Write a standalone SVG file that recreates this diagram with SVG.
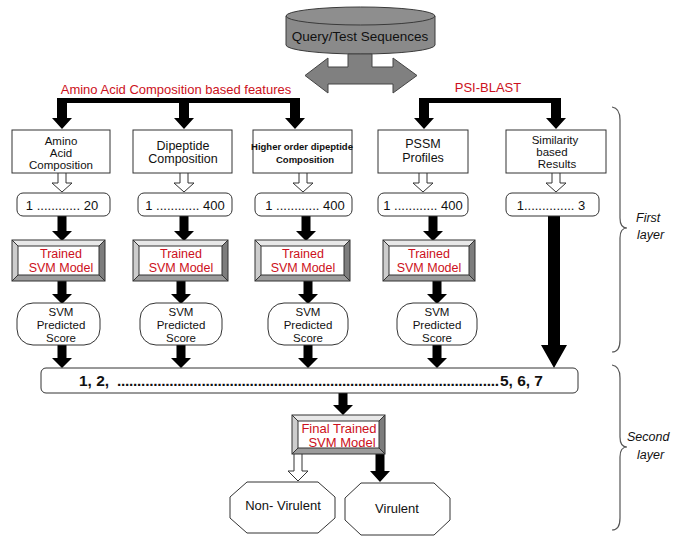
<svg xmlns="http://www.w3.org/2000/svg" width="685" height="549" viewBox="0 0 685 549">
<defs>
<style>
text{font-family:"Liberation Sans",Arial,sans-serif;fill:#111;text-anchor:middle}
.box{fill:#fff;stroke:#333;stroke-width:1}
.red{fill:#cc1020}
.blk{fill:#000}
.hol{fill:#fff;stroke:#333;stroke-width:1}
.bt{fill:#e8e8e8}.bl{fill:#cdcdcd}.br{fill:#7d7d7d}.bb{fill:#9c9c9c}
.frame{fill:none;stroke:#333;stroke-width:1}
.brace{fill:none;stroke:#555;stroke-width:1.2}
.it{font-style:italic;text-anchor:start;font-size:12.5px}
.sc{font-size:11.5px}
.num{font-size:13px}
.big{font-size:15.5px;font-weight:bold}
</style>
</defs>
<rect width="685" height="549" fill="#fff"/>

<g id="query">
<path d="M286 16 V45 A74.5 9 0 0 0 435 45 V16 Z" fill="#8a8a8a" stroke="#3a3a3a" stroke-width="1"/>
<ellipse cx="360.5" cy="16" rx="74.5" ry="9" fill="#8e8e8e" stroke="#3a3a3a" stroke-width="1"/>
<text x="360" y="41" font-size="13.5">Query/Test Sequences</text>
</g>

<g id="dbl-arrow">
<path d="M305 75.5 L328 58 V67 H348 V54 H372 V67 H393 V58 L417 75.5 L393 93 V84 H328 V93 Z" fill="#808080" stroke="#444" stroke-width="1"/>
</g>

<g id="labels">
<text x="176" y="94" font-size="13" class="red">Amino Acid Composition based features</text>
<text x="488" y="92" font-size="13" class="red">PSI-BLAST</text>
</g>

<g id="connectors">
<path class="blk" d="M57 98 H300 V118 H305 L295 129 L285 118 H290 V103 H189 V118 H194 L184 129 L174 118 H179 V103 H67 V118 H72 L62 129 L52 118 H57 Z"/>
<path class="blk" d="M419 98 H561 V118 H566 L556 129 L546 118 H551 V103 H429 V118 H434 L424 129 L414 118 H419 Z"/>
<path class="hol" d="M58 173 V183 H52 L62 192 L72 183 H66 V173"/>
<path class="hol" d="M180 173 V183 H174 L184 192 L194 183 H188 V173"/>
<path class="hol" d="M299 173 V183 H293 L303 192 L313 183 H307 V173"/>
<path class="hol" d="M419 173 V183 H413 L423 192 L433 183 H427 V173"/>
<path class="hol" d="M552 173 V183 H546 L556 192 L566 183 H560 V173"/>
<path class="blk" d="M57.5 216 V231 H52 L62 241 L72 231 H66.5 V216 Z"/>
<path class="blk" d="M179.5 216 V231 H174 L184 241 L194 231 H188.5 V216 Z"/>
<path class="blk" d="M301.5 216 V231 H296 L306 241 L316 231 H310.5 V216 Z"/>
<path class="blk" d="M428.5 216 V231 H423 L433 241 L443 231 H437.5 V216 Z"/>
<path class="blk" d="M57.5 281 V294 H52 L62 304 L72 294 H66.5 V281 Z"/>
<path class="blk" d="M176.5 281 V294 H171 L181 304 L191 294 H185.5 V281 Z"/>
<path class="blk" d="M303.5 281 V294 H298 L308 304 L318 294 H312.5 V281 Z"/>
<path class="blk" d="M432.5 281 V294 H427 L437 304 L447 294 H441.5 V281 Z"/>
<path class="blk" d="M57.5 345 V358 H52 L62 368 L72 358 H66.5 V345 Z"/>
<path class="blk" d="M176.5 345 V358 H171 L181 368 L191 358 H185.5 V345 Z"/>
<path class="blk" d="M303.5 345 V358 H298 L308 368 L318 358 H312.5 V345 Z"/>
<path class="blk" d="M432.5 345 V358 H427 L437 368 L447 358 H441.5 V345 Z"/>
<path class="blk" d="M548 216 V345 H541 L554 368 L567 345 H560 V216 Z"/>
<path class="blk" d="M338.5 393 V405 H333 L343 415 L353 405 H347.5 V393 Z"/>
<path class="hol" d="M294 454 V471 H288 L298 481 L308 471 H302 V454"/>
<path class="blk" d="M375.5 454 V471 H370 L380 482 L390 471 H384.5 V454 Z"/>
</g>

<g id="aac">
<rect class="box" x="12" y="130" width="98" height="43"/>
<text x="61" y="145" font-size="11.5">Amino</text>
<text x="61" y="157" font-size="11.5">Acid</text>
<text x="61" y="169" font-size="11.5">Composition</text>
</g>
<g id="dpc">
<rect class="box" x="133" y="130" width="99" height="43"/>
<text x="183" y="150" font-size="12.5">Dipeptide</text>
<text x="183" y="163" font-size="12.5">Composition</text>
</g>
<g id="hodc">
<rect class="box" x="253" y="130" width="99" height="43"/>
<text x="302" y="150" font-size="9.5" font-weight="bold">Higher order dipeptide</text>
<text x="305" y="163" font-size="9.5" font-weight="bold">Composition</text>
</g>
<g id="pssm">
<rect class="box" x="378" y="130" width="90" height="43"/>
<text x="423" y="148" font-size="12.5">PSSM</text>
<text x="423" y="162" font-size="12.5">Profiles</text>
</g>
<g id="sim">
<rect class="box" x="506" y="130" width="100" height="43"/>
<text x="555" y="144" font-size="11.5">Similarity</text>
<text x="552" y="156" font-size="11.5">based</text>
<text x="557" y="168" font-size="11.5">Results</text>
</g>

<g id="n1"><rect class="box" x="17" y="193" width="93" height="23" rx="6"/><text class="num" x="62" y="210">1 ............ 20</text></g>
<g id="n2"><rect class="box" x="138" y="193" width="94" height="23" rx="6"/><text class="num" x="185" y="210">1 ............ 400</text></g>
<g id="n3"><rect class="box" x="255" y="193" width="97" height="23" rx="6"/><text class="num" x="305" y="210">1 ............ 400</text></g>
<g id="n4"><rect class="box" x="378" y="193" width="90" height="23" rx="6"/><text class="num" x="423" y="210">1 ............ 400</text></g>
<g id="n5"><rect class="box" x="506" y="193" width="93" height="23" rx="6"/><text class="num" x="551" y="210">1.............. 3</text></g>

<g id="svm1">
<polygon class="bt" points="12,240 105,240 99,246 18,246"/><polygon class="bl" points="12,240 18,246 18,275 12,281"/><polygon class="br" points="105,240 105,281 99,275 99,246"/><polygon class="bb" points="12,281 105,281 99,275 18,275"/>
<rect class="frame" x="12" y="240" width="93" height="41"/><rect class="box" x="18" y="246" width="81" height="29"/>
<path class="frame" d="M12 240 L18 246 M105 240 L99 246 M12 281 L18 275 M105 281 L99 275"/>
<text x="61" y="258" font-size="12.5" class="red">Trained</text><text x="61" y="272" font-size="12.5" class="red">SVM Model</text>
</g>
<g id="svm2">
<polygon class="bt" points="133,240 228,240 222,246 139,246"/><polygon class="bl" points="133,240 139,246 139,275 133,281"/><polygon class="br" points="228,240 228,281 222,275 222,246"/><polygon class="bb" points="133,281 228,281 222,275 139,275"/>
<rect class="frame" x="133" y="240" width="95" height="41"/><rect class="box" x="139" y="246" width="83" height="29"/>
<path class="frame" d="M133 240 L139 246 M228 240 L222 246 M133 281 L139 275 M228 281 L222 275"/>
<text x="181" y="258" font-size="12.5" class="red">Trained</text><text x="181" y="272" font-size="12.5" class="red">SVM Model</text>
</g>
<g id="svm3">
<polygon class="bt" points="255,240 350,240 344,246 261,246"/><polygon class="bl" points="255,240 261,246 261,275 255,281"/><polygon class="br" points="350,240 350,281 344,275 344,246"/><polygon class="bb" points="255,281 350,281 344,275 261,275"/>
<rect class="frame" x="255" y="240" width="95" height="41"/><rect class="box" x="261" y="246" width="83" height="29"/>
<path class="frame" d="M255 240 L261 246 M350 240 L344 246 M255 281 L261 275 M350 281 L344 275"/>
<text x="303" y="258" font-size="12.5" class="red">Trained</text><text x="303" y="272" font-size="12.5" class="red">SVM Model</text>
</g>
<g id="svm4">
<polygon class="bt" points="383,240 475,240 469,246 389,246"/><polygon class="bl" points="383,240 389,246 389,275 383,281"/><polygon class="br" points="475,240 475,281 469,275 469,246"/><polygon class="bb" points="383,281 475,281 469,275 389,275"/>
<rect class="frame" x="383" y="240" width="92" height="41"/><rect class="box" x="389" y="246" width="80" height="29"/>
<path class="frame" d="M383 240 L389 246 M475 240 L469 246 M383 281 L389 275 M475 281 L469 275"/>
<text x="429" y="258" font-size="12.5" class="red">Trained</text><text x="429" y="272" font-size="12.5" class="red">SVM Model</text>
</g>

<g id="p1"><rect class="box" x="17" y="303" width="83" height="42" rx="16"/><text class="sc" x="61" y="316">SVM</text><text class="sc" x="61" y="329">Predicted</text><text class="sc" x="61" y="342">Score</text></g>
<g id="p2"><rect class="box" x="140" y="303" width="82" height="42" rx="16"/><text class="sc" x="181" y="316">SVM</text><text class="sc" x="181" y="329">Predicted</text><text class="sc" x="181" y="342">Score</text></g>
<g id="p3"><rect class="box" x="268" y="303" width="80" height="42" rx="16"/><text class="sc" x="308" y="316">SVM</text><text class="sc" x="308" y="329">Predicted</text><text class="sc" x="308" y="342">Score</text></g>
<g id="p4"><rect class="box" x="397" y="303" width="80" height="42" rx="16"/><text class="sc" x="437" y="316">SVM</text><text class="sc" x="437" y="329">Predicted</text><text class="sc" x="437" y="342">Score</text></g>

<g id="combined">
<rect class="box" x="41" y="368" width="537" height="25" rx="5"/>
<text class="big" x="79" y="386" style="text-anchor:start">1, 2,</text>
<text class="big" x="117" y="386" style="text-anchor:start" textLength="382" lengthAdjust="spacing">...............................................................................................</text>
<text class="big" x="543" y="386" style="text-anchor:end">5, 6, 7</text>
</g>

<g id="final">
<polygon class="bt" points="292,415 385,415 379,421 298,421"/><polygon class="bl" points="292,415 298,421 298,448 292,454"/><polygon class="br" points="385,415 385,454 379,448 379,421"/><polygon class="bb" points="292,454 385,454 379,448 298,448"/>
<rect class="frame" x="292" y="415" width="93" height="39"/><rect class="box" x="298" y="421" width="81" height="27"/>
<path class="frame" d="M292 415 L298 421 M385 415 L379 421 M292 454 L298 448 M385 454 L379 448"/>
<text x="339" y="433" font-size="13" class="red">Final Trained</text><text x="342" y="447" font-size="13" class="red">SVM Model</text>
</g>

<g id="nonvir">
<polygon class="box" points="247,482 318,482 335,497 335,518 318,533 247,533 230,518 230,497"/>
<text x="283" y="510" font-size="13">Non- Virulent</text>
</g>
<g id="vir">
<polygon class="box" points="361,483 434,483 450,498 450,520 434,535 361,535 345,520 345,498"/>
<text x="397" y="513" font-size="13">Virulent</text>
</g>

<g id="layers">
<path class="brace" d="M612 107 Q620 108 620 120 V218 Q620 228 627 228 Q620 228 620 238 V340 Q620 352 612 352"/>
<text class="it" x="636" y="222">First</text>
<text class="it" x="637" y="239">layer</text>
<path class="brace" d="M612 365 Q620 366 620 378 V437 Q620 447 627 447 Q620 447 620 457 V518 Q620 530 612 530"/>
<text class="it" x="627" y="441">Second</text>
<text class="it" x="637" y="459">layer</text>
</g>
</svg>
